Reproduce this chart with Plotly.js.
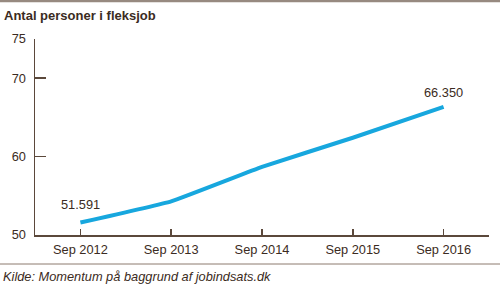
<!DOCTYPE html>
<html>
<head>
<meta charset="utf-8">
<script src="https://cdn.plot.ly/plotly-3.0.1.min.js"></script>
<style>
html,body{margin:0;padding:0;background:#fff;}
#chart{width:500px;height:284px;}
</style>
</head>
<body>
<div id="chart"></div>
<script>
const categories = ["Sep 2012", "Sep 2013", "Sep 2014", "Sep 2015", "Sep 2016"];
const values = [51.591, 54.3, 58.7, 62.4, 66.35];
const valueLabels = ["51.591", "66.350"];
const yTicks = [50, 60, 70, 75];
const titleText = "Antal personer i fleksjob";
const sourceText = "Kilde: Momentum på baggrund af jobindsats.dk";

const W = 500, H = 284;
const M = {l: 35, r: 11, t: 39, b: 49};
const pw = W - M.l - M.r, ph = H - M.t - M.b;
const px = x => (x - M.l) / pw;
const py = y => (H - M.b - y) / ph;

const txt = "#3b2b22";
const axc = "#5b483b";
const font = "Liberation Sans, Arial, sans-serif";

const trace = {
  x: categories, y: values, type: "scatter", mode: "lines",
  line: {color: "#17a7de", width: 4, shape: "spline", smoothing: 0.3},
  hoverinfo: "skip"
};

const layout = {
  width: W, height: H,
  margin: M,
  paper_bgcolor: "#ffffff", plot_bgcolor: "#ffffff",
  showlegend: false,
  font: {family: font, color: txt, size: 12},
  xaxis: {
    type: "category", range: [-0.5, 4.5],
    showline: true, linecolor: axc, linewidth: 1.5,
    ticks: "inside", ticklen: 6, tickwidth: 1.5, tickcolor: axc,
    showgrid: false, zeroline: false,
    tickfont: {family: font, size: 12.8, color: txt},
    ticklabelstandoff: 2
  },
  yaxis: {
    range: [50, 75], tickvals: yTicks, ticktext: yTicks.map(String),
    showline: true, linecolor: axc, linewidth: 1.5,
    ticks: "inside", ticklen: 11, tickwidth: 1.5, tickcolor: axc,
    showgrid: false, zeroline: false,
    tickfont: {family: font, size: 12.8, color: txt},
    ticklabelstandoff: 5
  },
  annotations: [
    {x: categories[0], y: values[0], xref: "x", yref: "y", text: valueLabels[0],
     showarrow: false, yshift: 18, xanchor: "center", font: {size: 12.8, color: txt}},
    {x: categories[4], y: values[4], xref: "x", yref: "y", text: valueLabels[1],
     showarrow: false, yshift: 14, xanchor: "center", font: {size: 12.8, color: txt}},
    {x: px(2), y: py(15), xref: "paper", yref: "paper", text: "<b>" + titleText + "</b>",
     showarrow: false, xanchor: "left", yanchor: "middle", font: {size: 13, color: txt}},
    {x: px(1), y: py(276), xref: "paper", yref: "paper", text: "<i>" + sourceText + "</i>",
     showarrow: false, xanchor: "left", yanchor: "middle", font: {size: 12.8, color: txt}}
  ],
  shapes: [
    {type: "line", xref: "paper", yref: "paper", x0: px(0), x1: px(500), y0: py(1), y1: py(1),
     line: {color: "#978a80", width: 2.5}},
    {type: "line", xref: "paper", yref: "paper", x0: px(0), x1: px(500), y0: py(264), y1: py(264),
     line: {color: "#8c7b6f", width: 1}}
  ]
};

Plotly.newPlot("chart", [trace], layout, {staticPlot: true, displayModeBar: false});
</script>
</body>
</html>
